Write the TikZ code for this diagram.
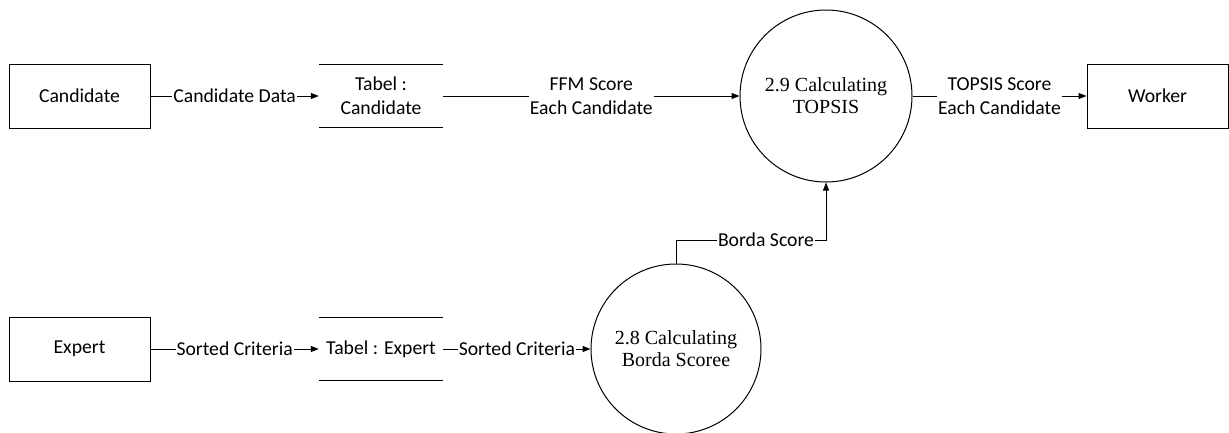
\documentclass[tikz,border=0pt]{standalone}
\usepackage{fontspec}
\setmainfont{Carlito}
\newfontfamily\procfont{Liberation Serif}
\usetikzlibrary{arrows.meta}
\begin{document}
\begin{tikzpicture}[x=1pt,y=-1pt,
  every node/.style={font=\fontsize{19.7}{24}\selectfont},
  entity/.style={draw, line width=1pt, minimum width=141pt, minimum height=64pt, inner sep=0pt},
  store/.style={minimum width=124pt, minimum height=62pt, inner sep=0pt, align=center},
  process/.style={draw, circle, line width=1pt, align=center, inner sep=0pt,
    font=\procfont\fontsize{20}{22}\selectfont},
  flow/.style={draw, line width=1pt, -{Triangle[length=8pt,width=6pt]}},
  lbl/.style={fill=white, inner sep=1pt, align=center},
  storeline/.style={line width=1pt}]
\useasboundingbox (0,0) rectangle (1229,432);

% external entities, data stores and processes
\node[entity] (cand) at (79.5,96) {Candidate};
\node[store] (tcand) at (381,96) {Tabel :\\Candidate};
\node[process, minimum size=172pt] (p29) at (826,96) {2.9 Calculating\\TOPSIS};
\node[entity] (work) at (1157.5,96) {Worker};
\node[entity] (exp) at (79.5,349) {Expert};
\node[store] (texp) at (381,349) {Tabel : Expert};
\node[process, minimum size=170pt] (p28) at (676,349) {2.8 Calculating\\Borda Scoree};

% open-ended data store outlines
\draw[storeline] (tcand.north west) -- (tcand.north east)
                 (tcand.south west) -- (tcand.south east);
\draw[storeline] (texp.north west) -- (texp.north east)
                 (texp.south west) -- (texp.south east);

% data flows
\draw[flow] (cand) -- node[lbl]{Candidate Data} (tcand);
\draw[flow] (tcand) -- node[lbl]{FFM Score\\Each Candidate} (p29);
\draw[flow] (p29) -- node[lbl]{TOPSIS Score\\Each Candidate} (work);
\draw[flow] (exp) -- node[lbl]{Sorted Criteria} (texp);
\draw[flow] (texp) -- node[lbl]{Sorted Criteria} (p28);
\coordinate (bend) at (676,240);
\draw[flow] (p28.north) -- (bend) -| node[lbl,pos=0.3]{Borda Score} (p29.south);
\end{tikzpicture}
\end{document}
